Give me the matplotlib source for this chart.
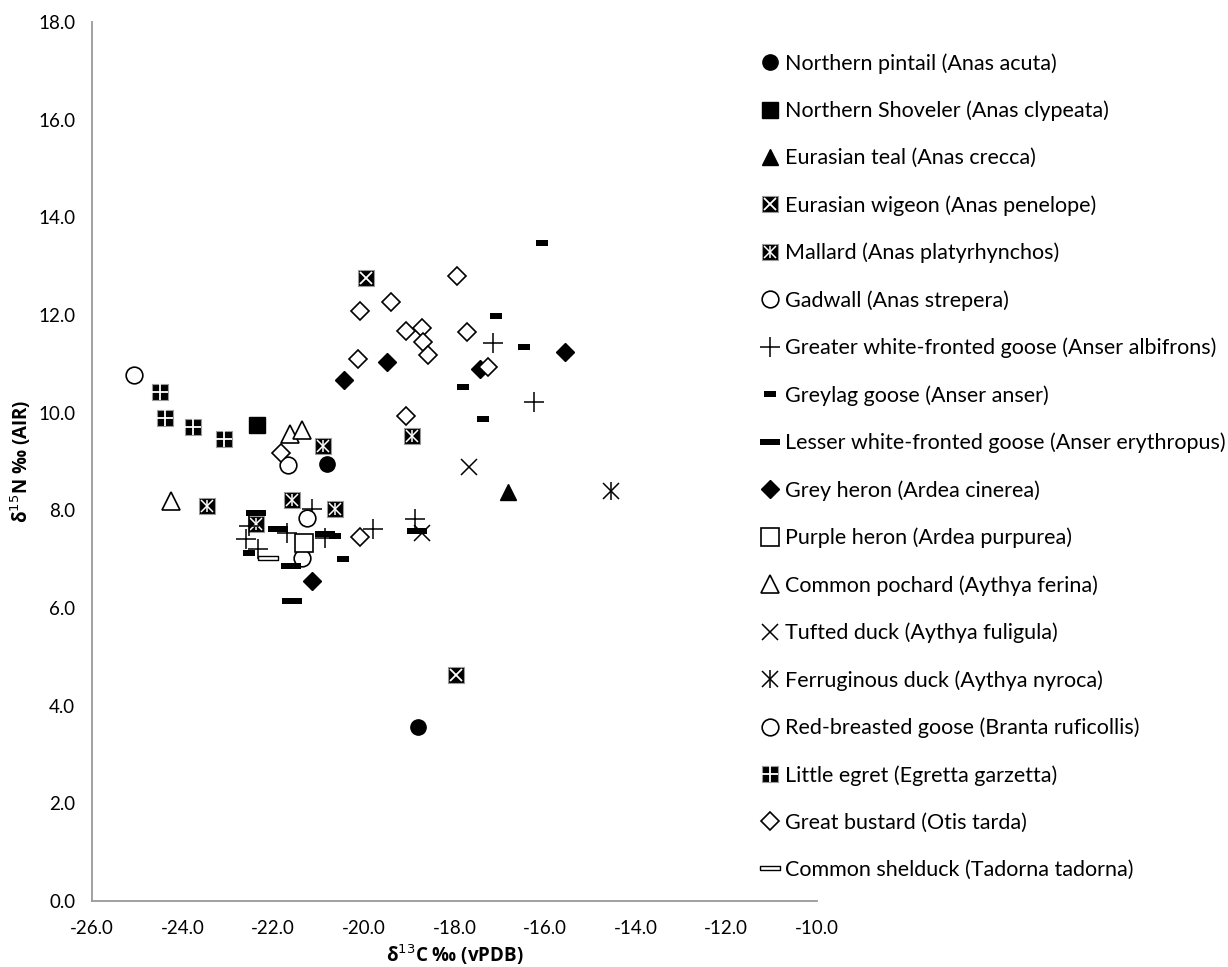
import matplotlib
matplotlib.use('Agg')
import matplotlib.pyplot as plt
import numpy as np

plt.rcParams['font.family'] = ['Lato', 'DejaVu Sans']

# d13C, d15N per species
pintail_x = [-20.81, -18.80]
pintail_y = [8.95, 3.56]
shoveler_x = [-22.36]
shoveler_y = [9.75]
teal_x = [-16.81]
teal_y = [8.38]
wigeon_x = [-19.95, -17.96]
wigeon_y = [12.75, 4.63]
mallard_x = [-20.91, -23.46, -21.58, -20.63, -22.39, -18.93]
mallard_y = [9.32, 8.08, 8.22, 8.03, 7.73, 9.53]
gadwall_x = [-21.67, -21.36]
gadwall_y = [8.92, 7.02]
gwf_goose_x = [-21.15, -22.53, -22.59, -22.33, -21.70, -20.86, -19.79, -18.87, -17.16, -16.24]
gwf_goose_y = [8.02, 7.67, 7.41, 7.20, 7.54, 7.44, 7.62, 7.82, 11.42, 10.22]
greylag_x = [-16.06, -17.08, -16.46, -17.82, -17.36, -22.53, -20.45, -20.64]
greylag_y = [13.47, 11.99, 11.34, 10.52, 9.88, 7.13, 7.00, 7.47]
lwf_goose_x = [-22.39, -21.89, -21.61, -21.58, -20.86, -18.82]
lwf_goose_y = [7.94, 7.62, 6.86, 6.15, 7.51, 7.57]
grey_heron_x = [-20.43, -19.49, -17.43, -15.56, -21.14]
grey_heron_y = [10.66, 11.04, 10.90, 11.24, 6.56]
purple_heron_x = [-21.33]
purple_heron_y = [7.33]
pochard_x = [-21.64, -21.37, -24.25]
pochard_y = [9.56, 9.65, 8.19]
tufted_x = [-17.67, -18.71]
tufted_y = [8.88, 7.54]
ferruginous_x = [-14.55]
ferruginous_y = [8.40]
red_breasted_x = [-25.07, -21.25]
red_breasted_y = [10.77, 7.84]
egret_x = [-24.50, -24.39, -23.76, -23.08]
egret_y = [10.42, 9.90, 9.71, 9.46]
bustard_x = [-20.12, -17.95, -19.41, -20.08, -19.08, -18.72, -18.69, -18.58, -17.72, -17.27, -19.07, -21.83, -20.08]
bustard_y = [11.10, 12.80, 12.26, 12.08, 11.68, 11.74, 11.45, 11.19, 11.66, 10.93, 9.93, 9.17, 7.46]
shelduck_x = [-22.11]
shelduck_y = [7.03]

small_bar = [(-1, -0.45), (1, -0.45), (1, 0.45), (-1, 0.45), (-1, -0.45)]
wide_bar = [(-1, -0.3), (1, -0.3), (1, 0.3), (-1, 0.3), (-1, -0.3)]
thin_bar = [(-1, -0.22), (1, -0.22), (1, 0.22), (-1, 0.22), (-1, -0.22)]

fig = plt.figure(figsize=(12.28, 9.67), dpi=100)
ax = fig.add_axes([0.0749, 0.0683, 0.5904, 0.9089])

ms = 11
handles = []
labels = []


def add(xs, ys, label, parts):
    hs = []
    for p in parts:
        h, = ax.plot(xs, ys, linestyle='none', **p)
        hs.append(h)
    handles.append(tuple(hs) if len(hs) > 1 else hs[0])
    labels.append(label)


add(pintail_x, pintail_y, 'Northern pintail (Anas acuta)',
    [dict(marker='o', ms=ms, color='black')])
add(shoveler_x, shoveler_y, 'Northern Shoveler (Anas clypeata)',
    [dict(marker='s', ms=ms, color='black')])
add(teal_x, teal_y, 'Eurasian teal (Anas crecca)',
    [dict(marker='^', ms=ms, color='black')])
add(wigeon_x, wigeon_y, 'Eurasian wigeon (Anas penelope)',
    [dict(marker='s', ms=ms, mfc='black', mec='#999999', mew=0.8),
     dict(marker='x', ms=ms - 3, color='white', mew=1.3)])
add(mallard_x, mallard_y, 'Mallard (Anas platyrhynchos)',
    [dict(marker='s', ms=ms, mfc='black', mec='#999999', mew=0.8),
     dict(marker='x', ms=ms - 3, color='white', mew=1.1),
     dict(marker='|', ms=ms - 2, color='white', mew=1.1)])
add(gadwall_x, gadwall_y, 'Gadwall (Anas strepera)',
    [dict(marker='o', ms=ms + 1, mfc='white', mec='black', mew=1.2)])
add(gwf_goose_x, gwf_goose_y, 'Greater white-fronted goose (Anser albifrons)',
    [dict(marker='+', ms=ms + 3, color='black', mew=1.1)])
add(greylag_x, greylag_y, 'Greylag goose (Anser anser)',
    [dict(marker=small_bar, ms=9, color='black', mew=0)])
add(lwf_goose_x, lwf_goose_y, 'Lesser white-fronted goose (Anser erythropus)',
    [dict(marker=wide_bar, ms=15, color='black', mew=0)])
add(grey_heron_x, grey_heron_y, 'Grey heron (Ardea cinerea)',
    [dict(marker='D', ms=ms - 2, color='black')])
add(purple_heron_x, purple_heron_y, 'Purple heron (Ardea purpurea)',
    [dict(marker='s', ms=ms + 2, mfc='white', mec='black', mew=1.2)])
add(pochard_x, pochard_y, 'Common pochard (Aythya ferina)',
    [dict(marker='^', ms=ms + 2, mfc='white', mec='black', mew=1.2)])
add(tufted_x, tufted_y, 'Tufted duck (Aythya fuligula)',
    [dict(marker='x', ms=ms + 1, color='black', mew=1.1)])
add(ferruginous_x, ferruginous_y, 'Ferruginous duck (Aythya nyroca)',
    [dict(marker='x', ms=ms, color='black', mew=1.1),
     dict(marker='|', ms=ms + 2, color='black', mew=1.1)])
add(red_breasted_x, red_breasted_y, 'Red-breasted goose (Branta ruficollis)',
    [dict(marker='o', ms=ms + 1, mfc='white', mec='black', mew=1.2)])
add(egret_x, egret_y, 'Little egret (Egretta garzetta)',
    [dict(marker='s', ms=ms, mfc='black', mec='#999999', mew=0.8),
     dict(marker='+', ms=ms, color='white', mew=1.3)])
add(bustard_x, bustard_y, 'Great bustard (Otis tarda)',
    [dict(marker='D', ms=ms - 2, mfc='white', mec='black', mew=1.2)])
add(shelduck_x, shelduck_y, 'Common shelduck (Tadorna tadorna)',
    [dict(marker=thin_bar, ms=14, mfc='white', mec='black', mew=1.0)])

ax.set_xlim(-26, -10)
ax.set_ylim(0, 18)
ax.set_xticks(np.arange(-26, -9, 2))
ax.set_yticks(np.arange(0, 19, 2))
ax.xaxis.set_major_formatter(matplotlib.ticker.FormatStrFormatter('%.1f'))
ax.yaxis.set_major_formatter(matplotlib.ticker.FormatStrFormatter('%.1f'))
ax.tick_params(length=0, labelsize=13.5, pad=14)
ax.tick_params(axis='y', pad=12)
for s in ['top', 'right']:
    ax.spines[s].set_visible(False)
for s in ['left', 'bottom']:
    ax.spines[s].set_color('#999999')
    ax.spines[s].set_linewidth(1.3)

lab_font = dict(fontsize=13.5, fontweight='bold', family=['Open Sans', 'DejaVu Sans'])
ax.set_xlabel('δ$^{13}$C ‰ (vPDB)', labelpad=4, **lab_font)
ax.set_ylabel('δ$^{15}$N ‰ (AIR)', labelpad=4, **lab_font)

leg = fig.legend(handles, labels, loc='upper left', bbox_to_anchor=(0.611, 0.954),
                 frameon=False, fontsize=15.5, labelspacing=1.25, handlelength=1.0,
                 handletextpad=0.2, borderaxespad=0)

fig.savefig('out.png', dpi=100)
